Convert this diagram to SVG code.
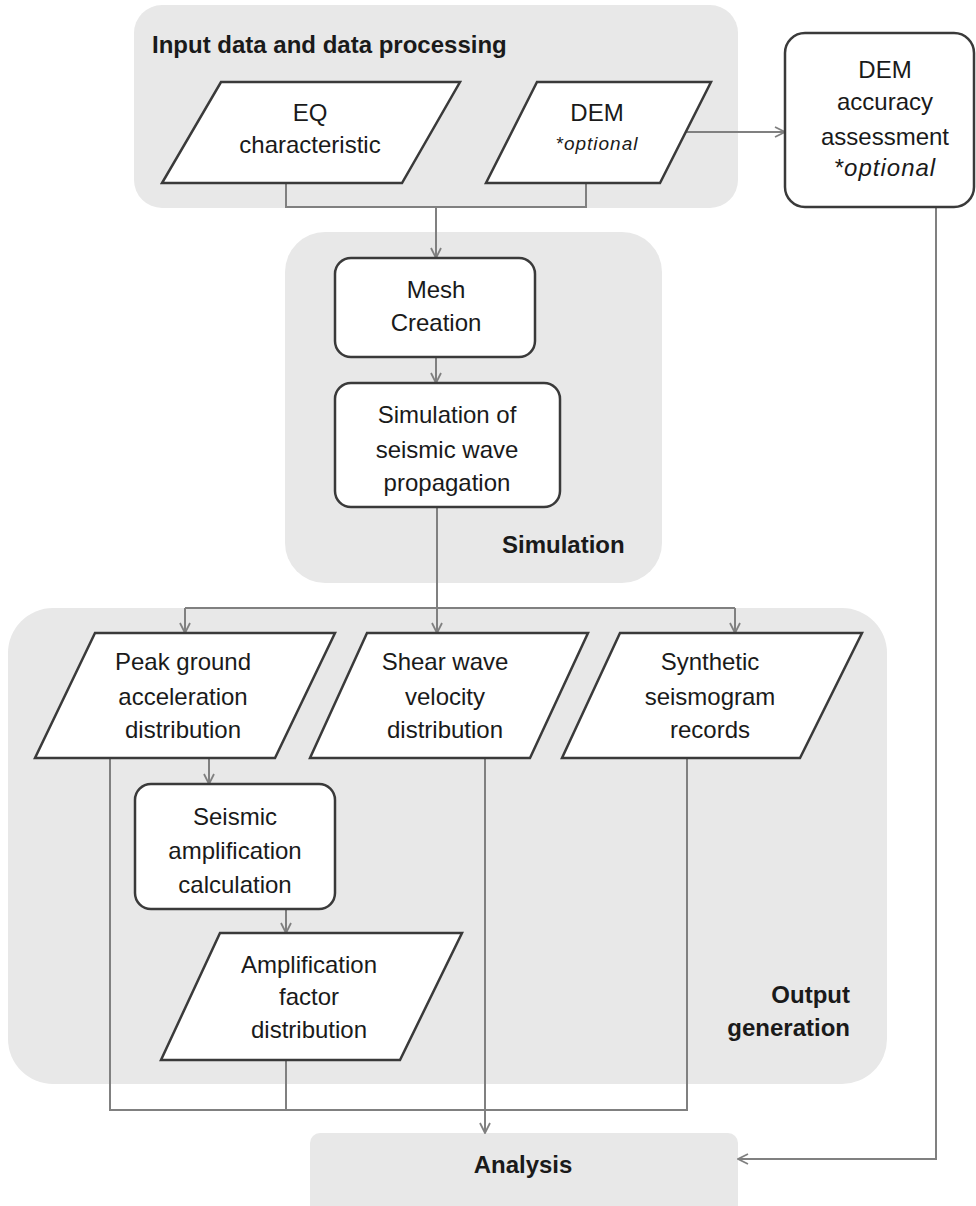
<svg xmlns="http://www.w3.org/2000/svg" width="976" height="1206" viewBox="0 0 976 1206">
<style>
.grp{fill:#e8e8e8;stroke:none}
.node{fill:#fff;stroke:#3a3a3a;stroke-width:2.5}
.t{font-family:"Liberation Sans",Arial,sans-serif;font-size:24px;fill:#1a1a1a;text-anchor:middle}
.b{font-family:"Liberation Sans",Arial,sans-serif;font-size:24px;font-weight:bold;fill:#1a1a1a}
.i{font-style:italic;letter-spacing:1px}
.c{fill:none;stroke:#808080;stroke-width:2}
</style>
<defs>
<marker id="arr" viewBox="0 0 12 12" refX="11" refY="6" markerWidth="12" markerHeight="12" markerUnits="userSpaceOnUse" orient="auto">
<path d="M1,1 L11,6 L1,11" fill="none" stroke="#808080" stroke-width="1.8"/>
</marker>
</defs>

<g id="group-input">
<rect class="grp" x="134" y="5" width="604" height="203" rx="28"/>
<text class="b" x="152" y="53">Input data and data processing</text>
</g>
<g id="group-simulation">
<rect class="grp" x="285" y="232" width="377" height="351" rx="40"/>
<text class="b" x="502" y="553">Simulation</text>
</g>
<g id="group-output">
<rect class="grp" x="8" y="608" width="879" height="476" rx="45"/>
<text class="b" x="850" y="1003" style="text-anchor:end">Output</text>
<text class="b" x="850" y="1036" style="text-anchor:end">generation</text>
</g>
<g id="analysis">
<rect class="grp" x="310" y="1133" width="428" height="90" rx="10"/>
<text class="b" x="523" y="1173" style="text-anchor:middle">Analysis</text>
</g>

<g id="connectors">
<polyline class="c" points="286,183 286,207 586,207 586,183"/>
<line class="c" x1="436" y1="207" x2="436" y2="258" marker-end="url(#arr)"/>
<line class="c" x1="686" y1="132" x2="785" y2="132" marker-end="url(#arr)"/>
<line class="c" x1="436" y1="357" x2="436" y2="383" marker-end="url(#arr)"/>
<line class="c" x1="437" y1="507" x2="437" y2="633" marker-end="url(#arr)"/>
<line class="c" x1="185" y1="608" x2="735" y2="608"/>
<line class="c" x1="185" y1="608" x2="185" y2="633" marker-end="url(#arr)"/>
<line class="c" x1="735" y1="608" x2="735" y2="633" marker-end="url(#arr)"/>
<line class="c" x1="209" y1="758" x2="209" y2="784" marker-end="url(#arr)"/>
<line class="c" x1="286" y1="909" x2="286" y2="933" marker-end="url(#arr)"/>
<polyline class="c" points="110,758 110,1110 687,1110 687,758"/>
<line class="c" x1="286" y1="1060" x2="286" y2="1110"/>
<line class="c" x1="485" y1="758" x2="485" y2="1133" marker-end="url(#arr)"/>
<polyline class="c" points="936,207 936,1159 738,1159" marker-end="url(#arr)"/>
</g>

<g id="eq">
<polygon class="node" points="221,82 460,82 402,183 162,183"/>
<text class="t" x="310" y="121">EQ</text>
<text class="t" x="310" y="153">characteristic</text>
</g>
<g id="dem">
<polygon class="node" points="537,82 711,82 660,183 486,183"/>
<text class="t" x="597" y="121">DEM</text>
<text class="t i" x="597" y="150" style="font-size:19px">*optional</text>
</g>
<g id="dem-accuracy">
<rect class="node" x="785" y="33" width="189" height="174" rx="20"/>
<text class="t" x="885" y="78">DEM</text>
<text class="t" x="885" y="110">accuracy</text>
<text class="t" x="885" y="145">assessment</text>
<text class="t i" x="885" y="176">*optional</text>
</g>
<g id="mesh">
<rect class="node" x="335" y="258" width="200" height="99" rx="16"/>
<text class="t" x="436" y="298">Mesh</text>
<text class="t" x="436" y="331">Creation</text>
</g>
<g id="sim-wave">
<rect class="node" x="335" y="383" width="225" height="124" rx="16"/>
<text class="t" x="447" y="423">Simulation of</text>
<text class="t" x="447" y="458">seismic wave</text>
<text class="t" x="447" y="491">propagation</text>
</g>
<g id="pga">
<polygon class="node" points="95,633 335,633 275,758 35,758"/>
<text class="t" x="183" y="670">Peak ground</text>
<text class="t" x="183" y="705">acceleration</text>
<text class="t" x="183" y="738">distribution</text>
</g>
<g id="shear">
<polygon class="node" points="367,633 588,633 530,758 310,758"/>
<text class="t" x="445" y="670">Shear wave</text>
<text class="t" x="445" y="705">velocity</text>
<text class="t" x="445" y="738">distribution</text>
</g>
<g id="synthetic">
<polygon class="node" points="620,633 862,633 800,758 562,758"/>
<text class="t" x="710" y="670">Synthetic</text>
<text class="t" x="710" y="705">seismogram</text>
<text class="t" x="710" y="738">records</text>
</g>
<g id="seismic-amp">
<rect class="node" x="135" y="784" width="200" height="125" rx="16"/>
<text class="t" x="235" y="825">Seismic</text>
<text class="t" x="235" y="859">amplification</text>
<text class="t" x="235" y="893">calculation</text>
</g>
<g id="amp-factor">
<polygon class="node" points="220,933 462,933 400,1060 161,1060"/>
<text class="t" x="309" y="973">Amplification</text>
<text class="t" x="309" y="1005">factor</text>
<text class="t" x="309" y="1038">distribution</text>
</g>
</svg>
